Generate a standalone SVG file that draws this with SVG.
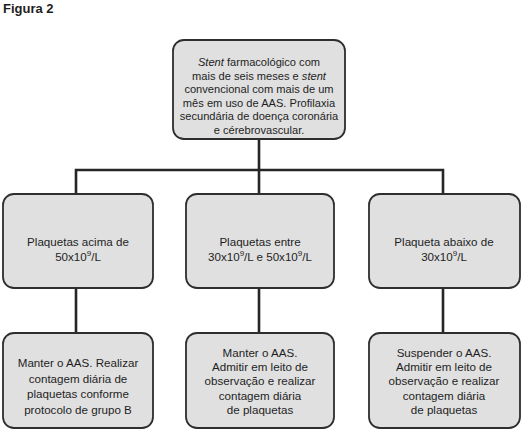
<svg xmlns="http://www.w3.org/2000/svg" width="528" height="434" viewBox="0 0 528 434">
<style>
.box{fill:#e0e0e0;stroke:#2e2e2e;stroke-width:1.8}
.t{font-family:"Liberation Sans",Arial,sans-serif;font-size:11.6px;fill:#1e1e1e;text-anchor:middle}
.tt{font-size:11.1px}
.c{stroke:#262626;stroke-width:2.6;fill:none}
.title{font-family:"Liberation Sans",Arial,sans-serif;font-size:13px;font-weight:bold;fill:#1e1e1e}
</style>
<rect width="528" height="434" fill="#ffffff"/>
<text class="title" x="3" y="13">Figura 2</text>
<g id="connectors">
<path class="c" d="M259,139 V170 M76,194 V170 H443 V194 M259,170 V194"/>
<path class="c" d="M76,288 V333 M259,288 V333 M443,288 V333"/>
</g>
<g id="top">
<rect class="box" x="173" y="40" width="172" height="99" rx="11"/>
<text class="t tt" y="66"><tspan x="259"><tspan font-style="italic">Stent</tspan> farmacológico com</tspan><tspan x="259" dy="13.6">mais de seis meses e <tspan font-style="italic">stent</tspan></tspan><tspan x="259" dy="13.6">convencional com mais de um</tspan><tspan x="259" dy="13.6">mês em uso de AAS. Profilaxia</tspan><tspan x="259" dy="13.6">secundária de doença coronária</tspan><tspan x="259" dy="13.6">e cérebrovascular.</tspan></text>
</g>
<g id="mid1">
<rect class="box" x="3" y="194" width="150" height="94" rx="11"/>
<text class="t" y="246"><tspan x="78">Plaquetas acima de</tspan><tspan x="78" dy="15">50x10<tspan font-size="8" dy="-5">9</tspan><tspan dy="5">/L</tspan></tspan></text>
</g>
<g id="mid2">
<rect class="box" x="186" y="194" width="148" height="94" rx="11"/>
<text class="t" y="246"><tspan x="260">Plaquetas entre</tspan><tspan x="260" dy="15">30x10<tspan font-size="8" dy="-5">9</tspan><tspan dy="5">/L e 50x10</tspan><tspan font-size="8" dy="-5">9</tspan><tspan dy="5">/L</tspan></tspan></text>
</g>
<g id="mid3">
<rect class="box" x="369" y="194" width="151" height="94" rx="11"/>
<text class="t" y="246"><tspan x="444">Plaqueta abaixo de</tspan><tspan x="444" dy="15">30x10<tspan font-size="8" dy="-5">9</tspan><tspan dy="5">/L</tspan></tspan></text>
</g>
<g id="bot1">
<rect class="box" x="3" y="333" width="150" height="95" rx="11"/>
<text class="t" y="367"><tspan x="78">Manter o AAS. Realizar</tspan><tspan x="78" dy="15.7">contagem diária de</tspan><tspan x="78" dy="15.7">plaquetas conforme</tspan><tspan x="78" dy="15.7">protocolo de grupo B</tspan></text>
</g>
<g id="bot2">
<rect class="box" x="186" y="333" width="148" height="95" rx="11"/>
<text class="t" y="357"><tspan x="260">Manter o AAS.</tspan><tspan x="260" dy="14.2">Admitir em leito de</tspan><tspan x="260" dy="14.2">observação e realizar</tspan><tspan x="260" dy="14.2">contagem diária</tspan><tspan x="260" dy="14.2">de plaquetas</tspan></text>
</g>
<g id="bot3">
<rect class="box" x="369" y="333" width="151" height="95" rx="11"/>
<text class="t" y="357"><tspan x="444">Suspender o AAS.</tspan><tspan x="444" dy="14.2">Admitir em leito de</tspan><tspan x="444" dy="14.2">observação e realizar</tspan><tspan x="444" dy="14.2">contagem diária</tspan><tspan x="444" dy="14.2">de plaquetas</tspan></text>
</g>
</svg>
